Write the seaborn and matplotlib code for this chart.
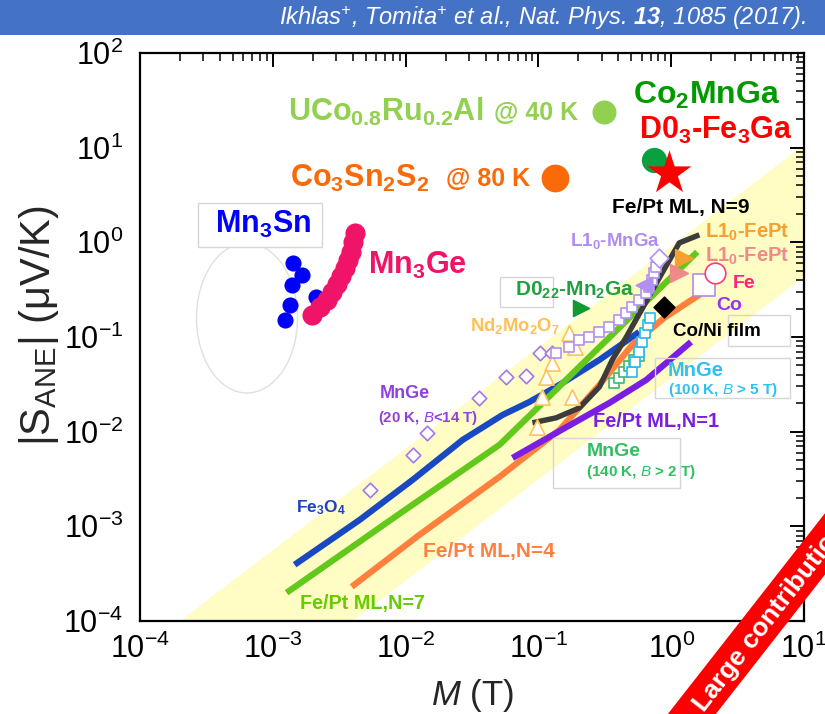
import numpy as np
import pandas as pd
import matplotlib
matplotlib.use("Agg")
import matplotlib.pyplot as plt
import seaborn as sns
from matplotlib.patches import Ellipse, Rectangle, Polygon
from matplotlib.ticker import LogLocator, NullFormatter

# ---------------- data (M in T, |S_ANE| in uV/K) ----------------
fe3o4_M = [1.46e-3, 4.51e-3, 1.13e-2, 2.69e-2, 5.36e-2, 8.55e-2, 0.144, 0.288, 0.574]
fe3o4_S = [3.93e-4, 1.17e-3, 3.10e-3, 8.19e-3, 1.50e-2, 2.06e-2, 3.12e-2, 5.73e-2, 0.113]

fept7_M = [1.27e-3, 9.02e-3, 5.09e-2, 0.102, 0.203, 0.406, 0.813, 1.57]
fept7_S = [1.99e-4, 1.36e-3, 7.26e-3, 1.87e-2, 4.83e-2, 0.125, 0.322, 0.792]

fept4_M = [3.93e-3, 1.27e-2, 5.09e-2, 0.144, 0.288, 0.509, 0.885, 1.71]
fept4_S = [2.30e-4, 8.13e-4, 3.33e-3, 1.04e-2, 3.12e-2, 8.26e-2, 0.159, 0.292]

fept1_M = [6.38e-2, 0.163, 0.342, 0.649, 1.41]
fept1_S = [5.28e-3, 1.12e-2, 2.01e-2, 3.52e-2, 8.87e-2]

fept9_M = [9.01e-2, 0.136, 0.203, 0.288, 0.360, 0.459, 0.627, 0.813, 1.15, 1.63]
fept9_S = [1.24e-2, 1.40e-2, 1.78e-2, 2.97e-2, 5.73e-2, 0.100, 0.218, 0.421, 0.986, 1.20]

mn3sn_M = [1.41e-3, 1.65e-3, 1.39e-3, 1.34e-3, 2.10e-3, 1.23e-3]
mn3sn_S = [0.605, 0.453, 0.355, 0.218, 0.265, 0.152]

mn3ge_M = [1.96e-3, 2.25e-3, 2.55e-3, 2.78e-3, 3.03e-3, 3.25e-3, 3.48e-3, 3.66e-3, 3.86e-3, 4.00e-3, 4.14e-3]
mn3ge_S = [0.171, 0.208, 0.247, 0.299, 0.364, 0.442, 0.537, 0.652, 0.792, 1.01, 1.26]

mnge20_M = [5.36e-3, 1.13e-2, 1.46e-2, 3.60e-2, 5.74e-2, 8.12e-2, 0.102, 0.127]
mnge20_S = [2.43e-3, 5.69e-3, 9.71e-3, 2.28e-2, 3.79e-2, 3.88e-2, 6.79e-2, 6.79e-2]

mnga_M = [0.136, 0.171, 0.203, 0.242, 0.288, 0.342, 0.406, 0.459, 0.509, 0.574, 0.649, 0.684, 0.720, 0.745, 0.771]
mnga_S = [0.0679, 0.0785, 0.0931, 0.100, 0.113, 0.128, 0.152, 0.180, 0.208, 0.247, 0.292, 0.338, 0.401, 0.475, 0.550]
mnga_big_M = [0.813]
mnga_big_S = [0.684]
mnga_tri_M = [0.62]
mnga_tri_S = [0.35]

nd_M = [0.171, 0.187, 0.127, 0.115, 0.107, 0.180, 0.0982]
nd_S = [0.110, 0.0785, 0.0532, 0.0379, 0.0233, 0.0233, 0.0112]

mnge100_M = [0.509, 0.536, 0.574, 0.605, 0.638, 0.672, 0.695]
mnge100_S = [0.0428, 0.0546, 0.0696, 0.0887, 0.110, 0.134, 0.159]

mnge140_M = [0.373, 0.406, 0.443, 0.483, 0.527, 0.574]
mnge140_S = [0.0327, 0.0370, 0.0428, 0.0495, 0.0573, 0.0631]

d022_M, d022_S = [0.210], [0.203]
fept_or_M, fept_or_S = [1.25], [0.684]
fept_pk_M, fept_pk_S = [1.15], [0.475]
fe_M, fe_S = [2.14], [0.475]
co_M, co_S = [1.77], [0.355]
coni_M, coni_S = [0.885], [0.208]

uco_M, uco_S = [0.313], [23.8]
co3sn2s2_M, co3sn2s2_S = [0.134], [4.79]
co2mnga_M, co2mnga_S = [0.745], [7.41]
fe3ga_M, fe3ga_S = [0.966], [5.41]

# guide band (upper & lower edges)
band_up_M = [2.0e-4, 10.0]
band_up_S = [1.0e-4, 10.7]
band_lo_M = [4.0e-3, 10.0]
band_lo_S = [1.0e-4, 0.435]

# ---------------- style ----------------
sns.set_theme(style="white")
plt.rcParams['font.family'] = ['Liberation Sans', 'DejaVu Sans']
plt.rcParams['mathtext.fontset'] = 'custom'
plt.rcParams['mathtext.rm'] = 'Liberation Sans:bold'
plt.rcParams['mathtext.it'] = 'Liberation Sans:italic'
plt.rcParams['mathtext.bf'] = 'Liberation Sans:bold:italic'

W, H = 825, 714
fig = plt.figure(figsize=(W/100, H/100), dpi=100)
AX_L, AX_R, AX_T, AX_B = 140, 804, 53, 621
ax = fig.add_axes([AX_L/W, 1-AX_B/H, (AX_R-AX_L)/W, (AX_B-AX_T)/H])
ax.set_xscale('log'); ax.set_yscale('log')
ax.set_xlim(1e-4, 1e1); ax.set_ylim(1e-4, 1e2)

def fx(px): return (px-AX_L)/(AX_R-AX_L)
def fy(py): return (AX_B-py)/(AX_B-AX_T)

# band
poly = np.array([[band_up_M[0], band_up_S[0]], [band_up_M[1], band_up_S[1]],
                 [band_lo_M[1], band_lo_S[1]], [band_lo_M[0], band_lo_S[0]]])
ax.add_patch(Polygon(poly, closed=True, fc='#FFFCC4', ec='none', zorder=0.5))

# Mn3Sn ellipse
ax.add_patch(Ellipse((fx(247), fy(318)), 101/664, 150/568, transform=ax.transAxes,
                     fc='white', ec='#E0E0E0', lw=1.0, zorder=1))

def line(Mv, Sv, color, lw=4.5):
    d = pd.DataFrame({'M': Mv, 'S': Sv})
    sns.lineplot(data=d, x='M', y='S', sort=False, estimator=None, color=color,
                 lw=lw, ax=ax, zorder=3, solid_capstyle='butt')

def pts(Mv, Sv, marker, s, fc, ec, lw=1.2, z=4):
    d = pd.DataFrame({'M': Mv, 'S': Sv})
    sns.scatterplot(data=d, x='M', y='S', marker=marker, s=s, color=fc,
                    edgecolor=ec, linewidth=lw, ax=ax, zorder=z)

pts(mnge20_M, mnge20_S, 'D', 55, 'white', '#A678E6')
pts(nd_M, nd_S, '^', 120, 'white', '#FFC25A')
pts(mnga_M, mnga_S, 's', 60, 'white', '#B290F2')

line(fe3o4_M, fe3o4_S, '#1848C2')
line(fept7_M, fept7_S, '#62C81C')
line(fept4_M, fept4_S, '#FF7F3C')
line(fept1_M, fept1_S, '#7A1FE2')
line(fept9_M, fept9_S, '#3C3C3C', lw=3.9)

pts(mnga_big_M, mnga_big_S, 'D', 90, 'white', '#B290F2')
pts(mnga_tri_M, mnga_tri_S, '<', 140, '#B290F2', '#B290F2')
pts(mnge140_M, mnge140_S, 's', 45, 'white', '#3DB878')
pts(mnge100_M, mnge100_S, 's', 50, 'white', '#28B8F0')
pts(d022_M, d022_S, '>', 130, '#129A30', '#129A30')
pts(fept_or_M, fept_or_S, '>', 160, '#F5A030', '#F5A030')
pts(fept_pk_M, fept_pk_S, '>', 160, '#F08A8A', '#F08A8A')
pts(co_M, co_S, 's', 260, 'white', '#B08CE8')
pts(fe_M, fe_S, 'o', 220, 'white', '#FF3A78')
pts(coni_M, coni_S, 'D', 110, 'black', 'black')

pts(mn3sn_M, mn3sn_S, 'o', 135, '#0000FF', '#0000FF', lw=0)
pts(mn3ge_M, mn3ge_S, 'o', 210, '#F01468', '#F01468', lw=0)
pts(uco_M, uco_S, 'o', 300, '#92D050', '#92D050', lw=0)
pts(co3sn2s2_M, co3sn2s2_S, 'o', 400, '#FA6A08', '#FA6A08', lw=0)
pts(co2mnga_M, co2mnga_S, 'o', 330, '#0AA040', '#0AA040', lw=0)
pts(fe3ga_M, fe3ga_S, '*', 1100, '#FF0000', '#FF0000', lw=0, z=5)

# ---------------- axes styling ----------------
for sp in ax.spines.values():
    sp.set_linewidth(1.6); sp.set_color('black')
ax.xaxis.set_major_locator(LogLocator(base=10, numticks=20))
ax.yaxis.set_major_locator(LogLocator(base=10, numticks=20))
ax.xaxis.set_minor_locator(LogLocator(base=10, subs=np.arange(2, 10), numticks=100))
ax.yaxis.set_minor_locator(LogLocator(base=10, subs=np.arange(2, 10), numticks=100))
ax.xaxis.set_minor_formatter(NullFormatter()); ax.yaxis.set_minor_formatter(NullFormatter())
ax.tick_params(which='both', direction='in', top=True, right=True, colors='black')
ax.tick_params(which='major', length=10, width=1.4, labelsize=22, pad=9)
ax.tick_params(which='minor', length=6, width=1.1)
ax.tick_params(axis='y', which='major', pad=12)

ax.set_xlabel(r'$M$ (T)', fontsize=25)
ax.xaxis.set_label_coords(0.5, fy(677))
ax.set_ylabel(r'|S$_{\mathdefault{ANE}}$| (μV/K)', fontsize=30)
ax.yaxis.set_label_coords(fx(61), 0.52)

# ---------------- labels ----------------
def T(px, py, s, color, fs, ha='left', **kw):
    return ax.text(fx(px), fy(py), s, transform=ax.transAxes, color=color, fontsize=fs,
                   fontweight='bold', ha=ha, va='center', zorder=6, **kw)

def box(x0, y0, x1, y1, fc='none', z=5.5):
    ax.add_patch(Rectangle((fx(x0), fy(y1)), (x1-x0)/664, (y1-y0)/568, transform=ax.transAxes,
                           fc=fc, ec='#D6D6D6', lw=1, zorder=z))

box(198, 203, 322, 247, fc='white', z=1.5)

T(288, 112, r'UCo$_{0.8}$Ru$_{0.2}$Al', '#92D050', 22)
T(494, 113, '@ 40 K', '#92D050', 18)
T(290, 178, r'Co$_3$Sn$_2$S$_2$', '#FA6A08', 22)
T(446, 179, '@ 80 K', '#FA6A08', 18)
T(707, 95, r'Co$_2$MnGa', '#009A00', 23, ha='center')
T(716, 130, r'D0$_3$-Fe$_3$Ga', '#FF0000', 22, ha='center')
T(263, 224, r'Mn$_3$Sn', '#0000FF', 22, ha='center')
T(368, 265, r'Mn$_3$Ge', '#F01468', 22)

T(612, 208, 'Fe/Pt ML, N=9', 'black', 15)
T(705, 232, r'L1$_0$-FePt', '#F5A030', 14.5)
T(705, 256, r'L1$_0$-FePt', '#F08A8A', 14.5)
T(570, 241, r'L1$_0$-MnGa', '#B08CF0', 13.5)
T(733, 283, 'Fe', '#FF2277', 14)
T(716, 306, 'Co', '#9933EE', 14)
T(673, 331, 'Co/Ni film', 'black', 13.5)
T(515, 290, r'D0$_{22}$-Mn$_2$Ga', '#22A040', 15)
T(470, 326, r'Nd$_2$Mo$_2$O$_7$', '#FFC050', 13.2)
T(380, 393, 'MnGe', '#9040E0', 13)
T(378, 418, r'(20 K, $B$<14 T)', '#9040E0', 10.8)
T(668, 370, 'MnGe', '#30C0F0', 14.5)
T(668, 390, r'(100 K, $B$ > 5 T)', '#30C0F0', 11)
T(593, 422, 'Fe/Pt ML,N=1', '#7A1FE2', 14.4)
T(587, 452, 'MnGe', '#30C060', 14)
T(586, 472, r'(140 K, $B$ > 2 T)', '#30C060', 11)
T(296, 508, r'Fe$_3$O$_4$', '#2040C0', 12.5)
T(423, 552, 'Fe/Pt ML,N=4', '#FF7F3F', 15)
T(300, 603, 'Fe/Pt ML,N=7', '#66CC00', 14.2)

box(655, 358, 790, 398)
box(553, 438, 680, 488)
box(728, 315, 790, 346)
box(500, 277, 553, 307)

# ---------------- banner & ribbon ----------------
fig.add_artist(Rectangle((0, 1-35/H), 1, 35/H, transform=fig.transFigure,
                         fc='#4472C4', ec='none', zorder=10))
fig.text(806/W, 1-18/H, r'Ikhlas$^{\mathdefault{+}}$, Tomita$^{\mathdefault{+}}$ et al., Nat. Phys. $\mathbf{13}$, 1085 (2017).',
         color='white', fontsize=17, fontstyle='italic', ha='right', va='center', zorder=11)

rib = np.array([[606, 793], [887, 434], [917, 457], [636, 816]], dtype=float)
rib_f = np.column_stack([rib[:, 0]/W, 1-rib[:, 1]/H])
fig.add_artist(Polygon(rib_f, closed=True, transform=fig.transFigure, fc='#FF0000', ec='none', zorder=10))
fig.text(770/W, 1-617/H, 'Large contribution', color='white', fontsize=19, fontweight='bold',
         rotation=52, rotation_mode='anchor', ha='center', va='center', zorder=11)

fig.savefig('out.png', dpi=100)
